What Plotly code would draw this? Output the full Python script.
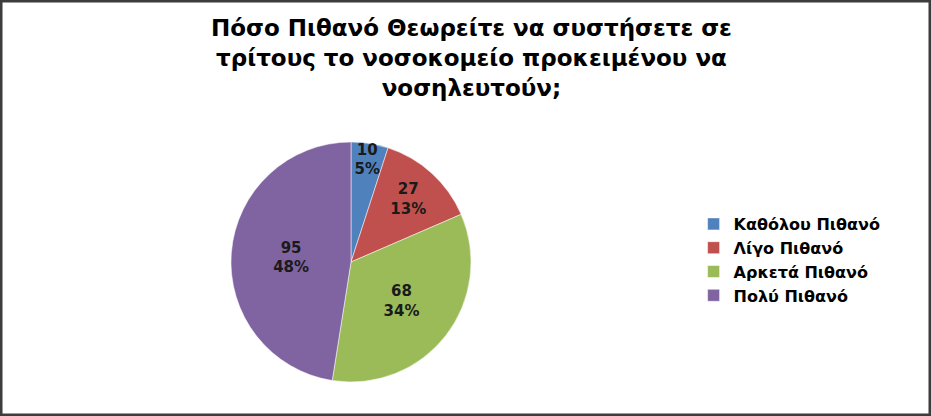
import plotly.graph_objects as go

categories = ["Καθόλου Πιθανό", "Λίγο Πιθανό", "Αρκετά Πιθανό", "Πολύ Πιθανό"]
values = [10, 27, 68, 95]
pct_labels = ["5%", "13%", "34%", "48%"]
colors = ["#4F81BD", "#C0504D", "#9BBB59", "#8064A2"]
title_lines = ["Πόσο Πιθανό Θεωρείτε να συστήσετε σε",
               "τρίτους το νοσοκομείο προκειμένου να",
               "νοσηλευτούν;"]

W, H = 931, 416
cx, cy, d = 351, 262, 240

fig = go.Figure(go.Pie(
    labels=categories,
    values=values,
    customdata=pct_labels,
    sort=False,
    direction="clockwise",
    rotation=0,
    marker=dict(colors=colors, line=dict(color="rgba(255,255,255,0.5)", width=1)),
    texttemplate="<b>%{value}<br>%{customdata}</b>",
    textposition="inside",
    insidetextorientation="horizontal",
    textfont=dict(family="DejaVu Sans", size=15, color="#1a1a1a"),
    hoverinfo="label+value+percent",
    domain=dict(x=[(cx - d / 2) / W, (cx + d / 2) / W],
                y=[(H - cy - d / 2) / H, (H - cy + d / 2) / H]),
))

fig.update_layout(
    width=W, height=H,
    margin=dict(l=0, r=0, t=0, b=0),
    paper_bgcolor="white",
    plot_bgcolor="white",
    uniformtext=dict(minsize=15, mode="show"),
    annotations=[dict(
        text="<b>" + "<br>".join(title_lines) + "</b>",
        xref="paper", yref="paper", x=0.506, y=1 - 58 / H,
        xanchor="center", yanchor="middle", align="center", showarrow=False,
        font=dict(family="DejaVu Sans", size=23, color="#000000"))],
    legend=dict(
        x=0.745, y=1 - 260 / H, xanchor="left", yanchor="middle",
        font=dict(family="DejaVu Sans", size=16, color="#000000", weight="bold"),
        bgcolor="rgba(0,0,0,0)",
    ),
    shapes=[dict(type="rect", xref="paper", yref="paper",
                 x0=0, x1=1, y0=0, y1=1,
                 line=dict(color="#3c3c3c", width=5))],
)

fig.write_html("out.html", config={"displayModeBar": False},
               post_script="document.body.style.margin='0px';")
